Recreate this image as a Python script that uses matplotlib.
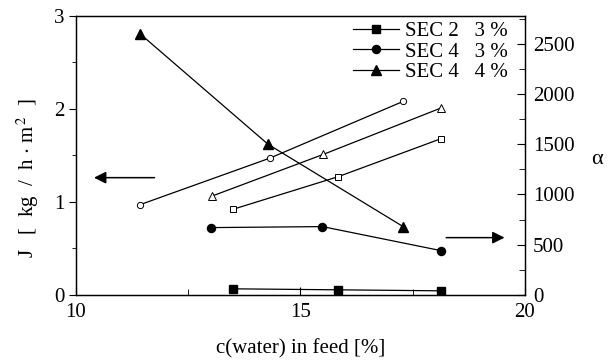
import matplotlib
matplotlib.use("Agg")
import matplotlib.pyplot as plt
from matplotlib.ticker import MultipleLocator

plt.rcParams["font.family"] = ["Liberation Serif", "DejaVu Serif"]
plt.rcParams["mathtext.fontset"] = "stix"

# flux J (left axis), open markers
x_circ = [11.43, 14.32, 17.29]
j_circ = [0.97, 1.47, 2.08]
x_tri = [13.02, 15.51, 18.14]
j_tri = [1.06, 1.51, 2.01]
x_sq = [13.50, 15.84, 18.14]
j_sq = [0.92, 1.27, 1.68]

# separation factor alpha (right axis), filled markers
x_sec2_3 = [13.50, 15.84, 18.14]
a_sec2_3 = [60, 50, 40]
x_sec4_3 = [13.00, 15.49, 18.14]
a_sec4_3 = [670, 680, 440]
x_sec4_4 = [11.43, 14.28, 17.29]
a_sec4_4 = [2600, 1500, 680]

labels = ["SEC 2   3 %", "SEC 4   3 %", "SEC 4   4 %"]

fig = plt.figure(figsize=(6.13, 3.6), dpi=100)
ax = fig.add_axes([0.124, 0.181, 0.732, 0.775])
ax2 = ax.twinx()

lw = 0.9
ax.plot(x_circ, j_circ, "-o", color="black", lw=lw, ms=4.5, mfc="white", mew=0.7)
ax.plot(x_tri, j_tri, "-^", color="black", lw=lw, ms=5.5, mfc="white", mew=0.7)
ax.plot(x_sq, j_sq, "-s", color="black", lw=lw, ms=4.2, mfc="white", mew=0.7)

ax2.plot(x_sec2_3, a_sec2_3, "-s", color="black", lw=lw, ms=5.2, label=labels[0])
ax2.plot(x_sec4_3, a_sec4_3, "-o", color="black", lw=lw, ms=5.8, label=labels[1])
ax2.plot(x_sec4_4, a_sec4_4, "-^", color="black", lw=lw, ms=7, label=labels[2])

ax.set_xlim(10, 20)
ax.set_ylim(0, 3)
ax2.set_ylim(0, 2780)

ax.xaxis.set_major_locator(MultipleLocator(5))
ax.xaxis.set_minor_locator(MultipleLocator(2.5))
ax.yaxis.set_major_locator(MultipleLocator(1))
ax.yaxis.set_minor_locator(MultipleLocator(0.5))
ax2.yaxis.set_major_locator(MultipleLocator(500))
ax2.yaxis.set_minor_locator(MultipleLocator(250))

ax.tick_params(axis="x", which="both", direction="in", labelsize=15, pad=6)
ax.tick_params(axis="x", which="major", length=6)
ax.tick_params(axis="x", which="minor", length=4)
ax.tick_params(axis="y", which="major", direction="out", length=5, labelsize=15)
ax.tick_params(axis="y", which="minor", direction="out", length=3)
ax2.tick_params(axis="y", which="major", direction="in", length=6, labelsize=15, pad=6)
ax2.tick_params(axis="y", which="minor", direction="in", length=4)

for a in (ax, ax2):
    for s in a.spines.values():
        s.set_linewidth(0.9)

ax.set_xlabel("c(water) in feed [%]", fontsize=15, labelpad=12)
ax.text(-0.108, 0.42, r"J   [  kg  /  h $\cdot$ m$^{\,2}$  ]", transform=ax.transAxes,
        fontsize=15, rotation=90, ha="center", va="center")
ax2.text(1.16, 0.485, "α", transform=ax2.transAxes, fontsize=16,
         ha="center", va="center")

# arrows pointing to the axis each group belongs to
ax.annotate("", xy=(10.4, 1.26), xytext=(11.75, 1.26),
            arrowprops=dict(arrowstyle="-|>", color="black", lw=1.1,
                            mutation_scale=18, shrinkA=0, shrinkB=0))
ax2.annotate("", xy=(19.55, 570), xytext=(18.25, 570),
             arrowprops=dict(arrowstyle="-|>", color="black", lw=1.1,
                             mutation_scale=18, shrinkA=0, shrinkB=0))

ax2.legend(loc="upper right", bbox_to_anchor=(0.99, 1.025), frameon=False,
           fontsize=15, numpoints=1, handlelength=2.2, handletextpad=0.3,
           labelspacing=0.05, borderaxespad=0.2)

fig.savefig("out.png", dpi=100)
